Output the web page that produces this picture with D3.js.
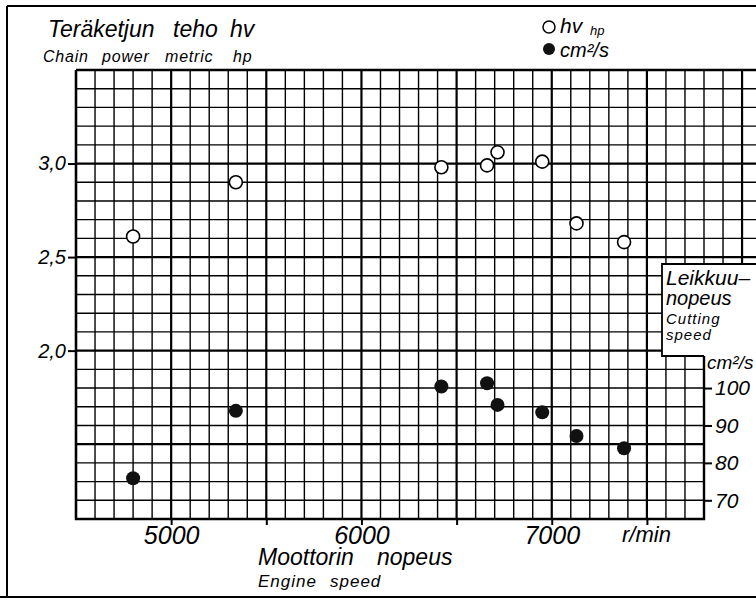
<!DOCTYPE html>
<html><head><meta charset="utf-8">
<script src="https://cdn.jsdelivr.net/npm/d3@7"></script>
<style>
body{margin:0;background:#fff}
svg text{font-family:"Liberation Sans",Arial,sans-serif;font-style:italic;fill:#000}
</style>
</head><body><svg id="c" width="756" height="603"></svg>
<script>
// ---- data ----
const rpm = [4800, 5340, 6420, 6660, 6715, 6950, 7130, 7380];
const powerHp = [2.61, 2.90, 2.98, 2.99, 3.06, 3.01, 2.68, 2.58];
const cuttingSpeed = [75.9, 93.9, 100.4, 101.3, 95.5, 93.5, 87.2, 83.9];
const rpmLabelTicks = [5000, 6000, 7000];
const rpmTicks = [5000, 5500, 6000, 6500, 7000, 7500];
const hpTicks = [3.0, 2.5, 2.0];
const speedTicks = [100, 90, 80, 70];

const svg = d3.select("#c");
const x = d3.scaleLinear([4500, 7800], [76, 704]);
const y = d3.scaleLinear([1.1, 3.5], [519, 70]);
const yR = d3.scaleLinear([65, 185], [519, 70]);
const boxTop = 264, boxBottom = 356, boxLeft = 662;

// outer frame
svg.append("path").attr("d","M7,6 V597 M7,6 H756 M0,597 H756")
  .attr("stroke","#000").attr("stroke-width",2).attr("fill","none");

// grid
const g = svg.append("g");
const vVals = d3.range(4500, 8201, 100);
vVals.forEach(v => {
  const major = v % 500 === 0;
  const y2 = v > 7800 ? boxTop : y(1.1);
  g.append("line").attr("x1",x(v)).attr("x2",x(v)).attr("y1",y(3.5)).attr("y2",y2)
    .attr("stroke","#000").attr("stroke-width", major ? 2.2 : 1.4);
});
const hVals = d3.range(11, 36, 1).map(d => d/10);
hVals.forEach(h => {
  const major = Math.round(h*10) % 5 === 0;
  const yy = y(h);
  const x2 = yy < boxTop ? 756 : x(7800);
  g.append("line").attr("x1",x(4500)).attr("x2",x2).attr("y1",yy).attr("y2",yy)
    .attr("stroke","#000").attr("stroke-width", major ? 2.2 : 1.4);
});
// borders
svg.append("path")
  .attr("d",`M${x(4500)},${y(3.5)} V${y(1.1)} H${x(7800)} V${boxBottom} M${x(4500)},${y(3.5)} H756`)
  .attr("stroke","#000").attr("stroke-width",2.4).attr("fill","none");

// box (open at bottom right of the right axis)
svg.append("rect").attr("x",boxLeft).attr("y",boxTop).attr("width",110).attr("height",boxBottom-boxTop)
  .attr("fill","#fff");
svg.append("path").attr("d",`M${x(7800)},${boxBottom} H${boxLeft} V${boxTop} H756`)
  .attr("fill","none").attr("stroke","#000").attr("stroke-width",1.8);
const bt = svg.append("g");
bt.append("text").attr("x",666).attr("y",285).attr("font-size",21).text("Leikkuu–");
bt.append("text").attr("x",666).attr("y",305).attr("font-size",20).text("nopeus");
bt.append("text").attr("x",666).attr("y",324).attr("font-size",15).attr("letter-spacing",1).text("Cutting");
bt.append("text").attr("x",666).attr("y",340).attr("font-size",15).attr("letter-spacing",1).text("speed");

// axes
const fmtHp = d => d.toFixed(1).replace(".", ",");
const axL = svg.append("g").attr("transform",`translate(${x(4500)},0)`)
  .call(d3.axisLeft(y).tickValues(hpTicks).tickFormat(fmtHp).tickSize(8).tickPadding(2));
const axB = svg.append("g").attr("transform",`translate(0,${y(1.1)})`)
  .call(d3.axisBottom(x).tickValues(rpmTicks).tickFormat(d => rpmLabelTicks.includes(d) ? d : "").tickSize(6).tickPadding(1));
const axR = svg.append("g").attr("transform",`translate(${x(7800)},0)`)
  .call(d3.axisRight(yR).tickValues(speedTicks).tickSize(8).tickPadding(3));
[axL, axB, axR].forEach(a => {
  a.select(".domain").remove();
  a.attr("font-family",null);
  a.selectAll("line").attr("stroke","#000").attr("stroke-width",2);
  a.selectAll("text").attr("fill","#000");
});
axL.selectAll("text").attr("font-size",20);
axB.selectAll("text").attr("font-size",25);
axR.selectAll("text").attr("font-size",21);

// axis titles
const t = svg.append("g");
t.append("text").attr("x",48).attr("y",37).attr("font-size",23)
  .html('<tspan>Teräketjun</tspan><tspan x="173">teho</tspan><tspan x="230">hv</tspan>');
t.append("text").attr("x",43).attr("y",62).attr("font-size",16).attr("letter-spacing",0.8)
  .html('<tspan>Chain</tspan><tspan x="102">power</tspan><tspan x="165">metric</tspan><tspan x="233">hp</tspan>');
t.append("text").attr("x",258).attr("y",565).attr("font-size",23)
  .html('<tspan>Moottorin</tspan><tspan x="377">nopeus</tspan>');
t.append("text").attr("x",258).attr("y",587).attr("font-size",17).attr("letter-spacing",1)
  .html('<tspan>Engine</tspan><tspan x="330">speed</tspan>');
t.append("text").attr("x",622).attr("y",542).attr("font-size",22).text("r/min");
t.append("text").attr("x",707).attr("y",369).attr("font-size",19).text("cm²/s");

// legend
const lg = svg.append("g");
lg.append("circle").attr("cx",549).attr("cy",27).attr("r",6).attr("fill","#fff").attr("stroke","#000").attr("stroke-width",1.5);
lg.append("circle").attr("cx",549).attr("cy",49).attr("r",6).attr("fill","#111");
lg.append("text").attr("x",560).attr("y",33).attr("font-size",21).text("hv");
lg.append("text").attr("x",590).attr("y",35).attr("font-size",13).text("hp");
lg.append("text").attr("x",560).attr("y",57).attr("font-size",20).text("cm²/s");

// data marks
const data = rpm.map((r,i) => ({r, hp: powerHp[i], v: cuttingSpeed[i]}));
svg.append("g").selectAll("circle").data(data).join("circle")
  .attr("cx", d => x(d.r)).attr("cy", d => y(d.hp)).attr("r",6.5)
  .attr("fill","#fff").attr("stroke","#000").attr("stroke-width",1.6);
svg.append("g").selectAll("circle").data(data).join("circle")
  .attr("cx", d => x(d.r)).attr("cy", d => yR(d.v)).attr("r",7)
  .attr("fill","#111");
</script>
</body></html>
